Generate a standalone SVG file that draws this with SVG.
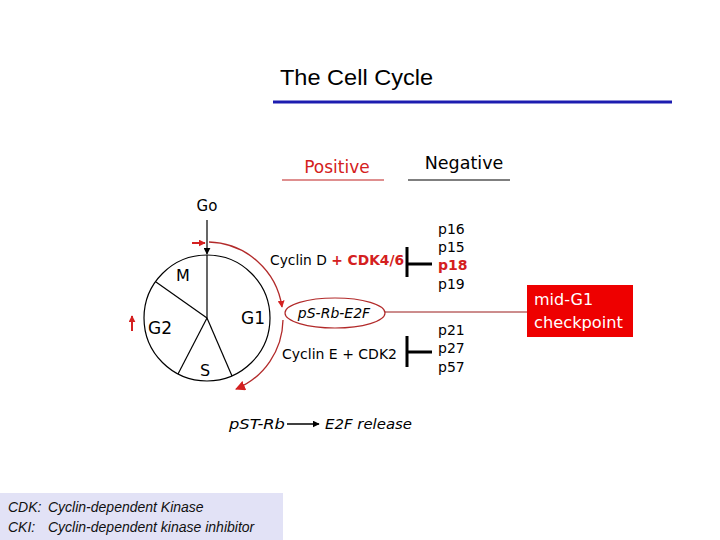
<svg xmlns="http://www.w3.org/2000/svg" width="720" height="540" viewBox="0 0 720 540">
<style>
.c{font-family:"DejaVu Sans","Liberation Sans",sans-serif;}
.k{fill:#000;}
.r{fill:#d42020;}
.ln{stroke:#000;stroke-width:1.2;fill:none;}
.bar{stroke:#000;stroke-width:3;fill:none;}
.arc{stroke:#b22a2a;stroke-width:1.3;fill:none;}
.leg{font-family:"Liberation Sans",Arial,sans-serif;font-style:italic;font-size:14px;fill:#111;}
</style>
<defs>
<marker id="ar" viewBox="0 0 10 10" refX="9" refY="5" markerWidth="7" markerHeight="7" orient="auto" markerUnits="userSpaceOnUse">
<path d="M0,0 L10,5 L0,10 z" fill="#d42020"/>
</marker>
<marker id="ab" viewBox="0 0 10 10" refX="9" refY="5" markerWidth="7" markerHeight="7" orient="auto" markerUnits="userSpaceOnUse">
<path d="M0,0 L10,5 L0,10 z" fill="#000"/>
</marker>
<marker id="arL" viewBox="0 0 10 10" refX="9" refY="5" markerWidth="10" markerHeight="10" orient="auto" markerUnits="userSpaceOnUse">
<path d="M0,0 L10,5 L0,10 z" fill="#d42020"/>
</marker>
</defs>
<rect width="720" height="540" fill="#fff"/>

<g id="title">
<text x="280" y="85" font-family="Liberation Sans,Arial,sans-serif" font-size="22" fill="#000" textLength="153" lengthAdjust="spacingAndGlyphs">The Cell Cycle</text>
<line x1="273" y1="102" x2="672" y2="102" stroke="#1c1cb0" stroke-width="3"/>
</g>

<g id="positive">
<text x="337" y="173" text-anchor="middle" class="c r" font-size="17">Positive</text>
<line x1="282" y1="180" x2="384" y2="180" stroke="#c02020" stroke-width="1.2"/>
</g>
<g id="negative">
<text x="464" y="169" text-anchor="middle" class="c k" font-size="17.5">Negative</text>
<line x1="408" y1="180" x2="510" y2="180" stroke="#000" stroke-width="1.2"/>
</g>

<g id="cell-cycle">
<circle cx="207" cy="318" r="63" class="ln"/>
<line x1="207" y1="318" x2="207" y2="255" class="ln"/>
<line x1="207" y1="318" x2="156" y2="282" class="ln"/>
<line x1="207" y1="318" x2="178" y2="374" class="ln"/>
<line x1="207" y1="318" x2="232" y2="376" class="ln"/>
<text x="183" y="281" text-anchor="middle" class="c k" font-size="16">M</text>
<text x="253" y="324" text-anchor="middle" class="c k" font-size="17">G1</text>
<text x="160" y="334" text-anchor="middle" class="c k" font-size="17">G2</text>
<text x="205" y="376" text-anchor="middle" class="c k" font-size="16">S</text>
</g>

<g id="go">
<text x="207" y="211" text-anchor="middle" class="c k" font-size="15">Go</text>
</g>

<g id="cyclinD">
<text x="270" y="265" class="c" font-size="13.8"><tspan fill="#000">Cyclin D </tspan><tspan fill="#d42020" font-weight="bold">+ CDK4/6</tspan></text>
</g>
<g id="cyclinE">
<text x="282" y="359" class="c k" font-size="14">Cyclin E + CDK2</text>
</g>

<g id="pSRb">
<ellipse cx="335" cy="313" rx="50" ry="15" fill="none" stroke="#b22a2a" stroke-width="1.2"/>
<text x="334" y="318" text-anchor="middle" class="c k" font-size="14" font-style="italic">pS-Rb-E2F</text>
</g>

<g id="inhib1">
<text x="438" y="234" class="c k" font-size="14">p16</text>
<text x="438" y="252" class="c k" font-size="14">p15</text>
<text x="438" y="270" class="c r" font-size="14" font-weight="bold">p18</text>
<text x="438" y="289" class="c k" font-size="14">p19</text>
</g>
<g id="inhib2">
<text x="438" y="335" class="c k" font-size="14">p21</text>
<text x="438" y="353" class="c k" font-size="14">p27</text>
<text x="438" y="372" class="c k" font-size="14">p57</text>
</g>

<g id="checkpoint">
<rect x="527" y="285" width="106" height="52" fill="#ee0000"/>
<text x="534" y="305" class="c" font-size="16" fill="#fff">mid-G1</text>
<text x="534" y="328" class="c" font-size="16" fill="#fff" textLength="89" lengthAdjust="spacingAndGlyphs">checkpoint</text>
</g>

<g id="pSTRb">
<text x="229" y="429" class="c k" font-size="14.5" font-style="italic" textLength="56" lengthAdjust="spacingAndGlyphs">pST-Rb</text>
</g>
<g id="e2f">
<text x="325" y="429" class="c k" font-size="14.5" font-style="italic" textLength="87" lengthAdjust="spacingAndGlyphs">E2F release</text>
</g>

<g id="legend">
<rect x="0" y="493" width="283" height="47" fill="#e2e2f6"/>
<text x="8" y="512" class="leg">CDK:</text>
<text x="48" y="512" class="leg">Cyclin-dependent Kinase</text>
<text x="8" y="532" class="leg">CKI:</text>
<text x="48" y="532" class="leg">Cyclin-dependent kinase inhibitor</text>
</g>

<g id="connectors">
<line x1="207" y1="220" x2="207" y2="254" stroke="#000" stroke-width="1.2" marker-end="url(#ab)"/>
<path d="M209,242 A76,76 0 0 1 282,307" class="arc" marker-end="url(#ar)"/>
<path d="M283,320 A76,76 0 0 1 236,389" class="arc" marker-end="url(#arL)"/>
<line x1="192" y1="243" x2="205" y2="243" stroke="#d42020" stroke-width="2" marker-end="url(#ar)"/>
<line x1="132" y1="331" x2="132" y2="316" stroke="#d42020" stroke-width="2" marker-end="url(#ar)"/>
<line x1="385" y1="312" x2="527" y2="312" stroke="#9a1a1a" stroke-width="1"/>
<path d="M407,247 V277 M407,264 H432" class="bar"/>
<path d="M407,336 V367 M407,352 H432" class="bar"/>
<line x1="287" y1="424" x2="319" y2="424" stroke="#000" stroke-width="1.5" marker-end="url(#ab)"/>
</g>
</svg>
